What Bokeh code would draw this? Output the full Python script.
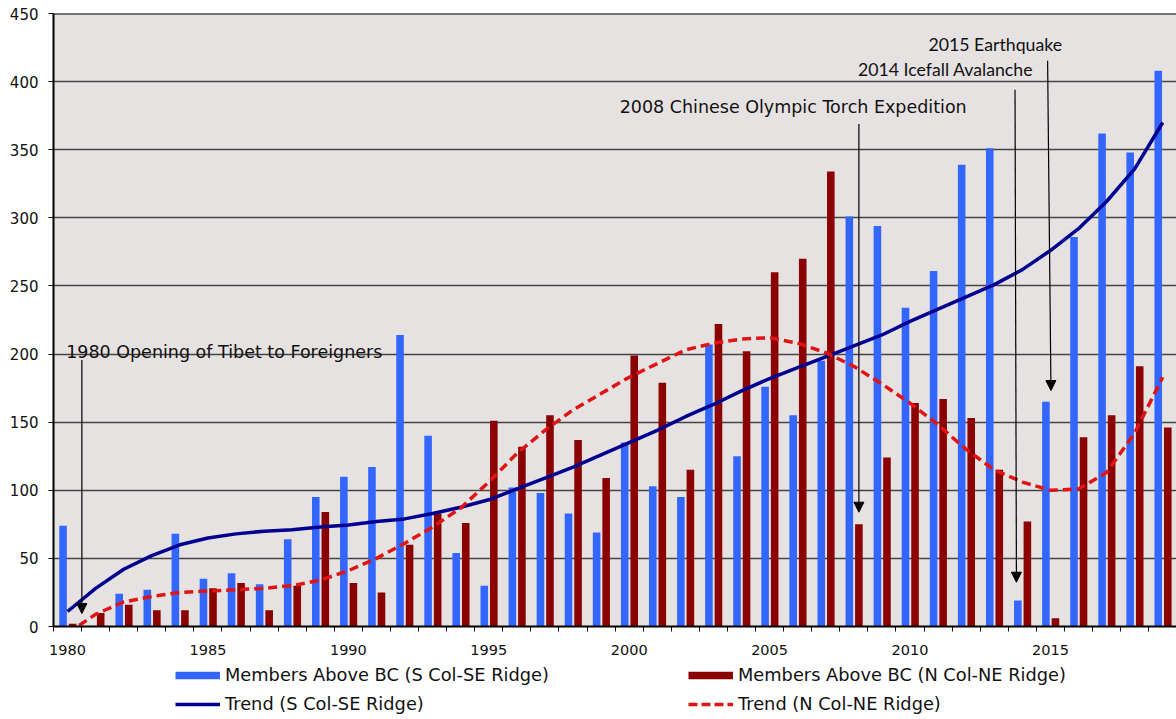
from bokeh.plotting import figure
from bokeh.layouts import column
from bokeh.models import (Range1d, FixedTicker, Legend, LegendItem, Label, Arrow,
                          NormalHead, Span, ColumnDataSource)
from bokeh.embed import file_html
from bokeh.resources import INLINE

# ---------------- data ----------------
years = list(range(1980, 2020))
s_col_members = [74, 0, 24, 27, 68, 35, 39, 31, 64, 95, 110, 117, 214, 140, 54, 30, 102, 98, 83, 69,
                 135, 103, 95, 207, 125, 176, 155, 195, 301, 294, 234, 261, 339, 351, 19, 165, 286, 362, 348, 408]
n_col_members = [2, 10, 16, 12, 12, 28, 32, 12, 30, 84, 32, 25, 60, 83, 76, 151, 132, 155, 137, 109,
                 199, 179, 115, 222, 202, 260, 270, 334, 75, 124, 164, 167, 153, 115, 77, 6, 139, 155, 191, 146]
s_col_trend = [11, 28, 42, 52, 60, 65, 68, 70, 71, 73, 74.5, 77, 79, 83, 87.5, 93, 101, 109, 117, 126,
               135, 144, 154, 163, 173, 182, 190, 198, 206, 214, 224, 233, 242, 251, 262, 276, 292, 312, 336, 370]
n_col_trend = [-5, 9, 18, 22, 25, 26, 27, 28, 30, 34, 41, 50, 61, 73, 87, 106, 127, 144, 159, 171,
               183, 193, 203, 208, 211, 212, 208, 201, 191, 178, 164, 148, 130, 115, 106, 100, 101, 113, 142, 183]

x_tick_years = [1980, 1985, 1990, 1995, 2000, 2005, 2010, 2015]
y_ticks = [0, 50, 100, 150, 200, 250, 300, 350, 400, 450]

series_labels = ["Members Above BC (S Col-SE Ridge)", "Members Above BC (N Col-NE Ridge)",
                 "Trend (S Col-SE Ridge)", "Trend (N Col-NE Ridge)"]

# annotation events: text, text anchor (x, baseline y), arrow start/end
event_texts = ["1980 Opening of Tibet to Foreigners", "2008 Chinese Olympic Torch Expedition",
               "2014 Icefall Avalanche", "2015 Earthquake"]
event_text_x = [1979.95, 1999.66, 2008.15, 2010.66]
event_text_y = [201.3, 381.0, 408.7, 427.2]
event_arrow_x0 = [1980.51, 2008.18, 2013.74, 2014.90]
event_arrow_y0 = [195.7, 368.8, 394.0, 415.3]
event_arrow_x1 = [1980.51, 2008.18, 2013.79, 2015.02]
event_arrow_y1 = [9.5, 83.9, 32.5, 173.2]

# ---------------- styling ----------------
BLUE = "#3366ff"
DARKRED = "#8b0000"
NAVY = "#000090"
RED = "#e01414"
BG = "#e6e2e2"
FONT = "DejaVu Sans"
event_fonts = [FONT, FONT, "Lato", "Lato"]
event_sizes = ["17.5px", "17.5px", "17.7px", "17.7px"]

src = ColumnDataSource(dict(
    xs=[y - 0.16 for y in years],
    xn=[y + 0.18 for y in years],
    s=s_col_members, n=n_col_members))

p = figure(width=1176, height=660,
           x_range=Range1d(1979.5, 2019.49), y_range=Range1d(0, 450),
           output_backend="svg", toolbar_location=None,
           min_border_left=53, min_border_right=0, min_border_top=13, min_border_bottom=34)

p.background_fill_color = BG
p.border_fill_color = "white"
p.outline_line_color = None

p.xgrid.grid_line_color = None
p.ygrid.grid_line_color = "#454545"
p.ygrid.grid_line_width = 1.4
p.ygrid.ticker = FixedTicker(ticks=y_ticks)

# axes
p.yaxis.ticker = FixedTicker(ticks=y_ticks)
p.yaxis.axis_line_color = "black"
p.yaxis.axis_line_width = 2
p.yaxis.major_tick_line_color = "black"
p.yaxis.major_tick_out = 5
p.yaxis.major_tick_in = 0
p.yaxis.minor_tick_line_color = None
p.yaxis.major_label_standoff = 10
p.yaxis.major_label_text_font = FONT
p.yaxis.major_label_text_font_size = "15px"
p.yaxis.major_label_text_color = "#111111"

p.xaxis.ticker = FixedTicker(ticks=x_tick_years, minor_ticks=[y - 0.5 for y in years])
p.xaxis.major_label_overrides = {y: str(y) for y in x_tick_years}
p.xaxis.axis_line_color = "black"
p.xaxis.axis_line_width = 2
p.xaxis.major_tick_line_color = None
p.xaxis.major_tick_out = 0
p.xaxis.major_tick_in = 0
p.xaxis.minor_tick_line_color = "black"
p.xaxis.minor_tick_out = 5
p.xaxis.minor_tick_in = 0
p.xaxis.major_label_standoff = 13
p.xaxis.major_label_text_font = FONT
p.xaxis.major_label_text_font_size = "14.5px"
p.xaxis.major_label_text_color = "#111111"

# top border
p.add_layout(Span(location=450, dimension="width", line_color="black", line_width=2))

# bars
p.vbar(x="xs", top="s", width=0.27, source=src, fill_color=BLUE, line_color=None)
p.vbar(x="xn", top="n", width=0.27, source=src, fill_color=DARKRED, line_color=None)

# trends
p.line(years, s_col_trend, line_color=NAVY, line_width=3.5, line_join="round")
p.line(years, n_col_trend, line_color=RED, line_width=3.5, line_dash="9 5")

# annotations
for t, tx, ty, x0, y0, x1, y1, f, fs in zip(event_texts, event_text_x, event_text_y,
                                             event_arrow_x0, event_arrow_y0, event_arrow_x1, event_arrow_y1,
                                             event_fonts, event_sizes):
    p.add_layout(Label(x=tx, y=ty, text=t, text_font=f, text_font_size=fs,
                       text_baseline="alphabetic", text_align="left", text_color="#111111"))
    p.add_layout(Arrow(x_start=x0, y_start=y0, x_end=x1, y_end=y1, line_color="black", line_width=1.2,
                       end=NormalHead(size=10, fill_color="black", line_color="black", line_width=1)))

# ---------------- legend strip (separate figure below) ----------------
lf = figure(width=1176, height=59, x_range=Range1d(0, 1), y_range=Range1d(0, 1),
            output_backend="svg", toolbar_location=None,
            min_border_left=0, min_border_right=0, min_border_top=0, min_border_bottom=0)
lf.axis.visible = False
lf.grid.visible = False
lf.outline_line_color = None
lf.background_fill_color = "white"
lf.border_fill_color = "white"

# proxy glyphs (outside the visible range) used only for the legend swatches
px, py = [5, 6], [5, 5]
g_bs = lf.line(px, py, line_color=BLUE, line_width=7.5, line_cap="butt")
g_bn = lf.line(px, py, line_color=DARKRED, line_width=7.5, line_cap="butt")
g_ts = lf.line(px, py, line_color=NAVY, line_width=3.5)
g_tn = lf.line(px, py, line_color=RED, line_width=3.5, line_dash="9 4")

def make_legend(items, loc):
    lg = Legend(items=items, location=loc, orientation="vertical",
                glyph_width=45, glyph_height=20, label_height=20, spacing=8,
                label_standoff=5, padding=0, margin=0,
                border_line_color=None, background_fill_alpha=0,
                label_text_font=FONT, label_text_font_size="17.8px",
                label_text_color="#111111")
    lf.add_layout(lg)

make_legend([LegendItem(label=series_labels[0], renderers=[g_bs]),
             LegendItem(label=series_labels[2], renderers=[g_ts])], (122, 5))
make_legend([LegendItem(label=series_labels[1], renderers=[g_bn]),
             LegendItem(label=series_labels[3], renderers=[g_tn])], (635, 5))

open("out.html", "w").write(file_html(column(p, lf), INLINE))
